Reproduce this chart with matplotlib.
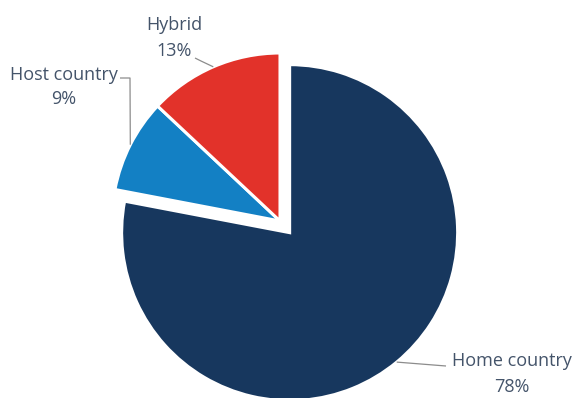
import numpy as np
import matplotlib
matplotlib.use("Agg")
import matplotlib.pyplot as plt

labels = ["Home country", "Host country", "Hybrid"]
values = [78, 9, 13]
colors = ["#17375E", "#1380C4", "#E2322A"]
explode = [0.09, 0.0, 0.0]

W, H = 574, 398
fig = plt.figure(figsize=(W / 100, H / 100), dpi=100)
ax = fig.add_axes([0, 0, 1, 1])
R = 168.0
cx, cy = 280.0, 398 - 221.0

wedges, _ = ax.pie(values, colors=colors, explode=explode, startangle=90,
                   counterclock=False, radius=1.0, center=(0, 0), frame=True,
                   wedgeprops=dict(edgecolor="white", linewidth=2.2))
ax.set_xlim(-cx / R, (W - cx) / R)
ax.set_ylim(-cy / R, (H - cy) / R)
ax.set_aspect("auto")
ax.axis("off")

txtc = "#44546A"
linec = "#8C8C8C"
font = "Open Sans"
fs = 13

def px(x, y):
    return ((x - cx) / R, (398 - y - cy) / R)

# label positions (layout) and elbow points
label_pos = {
    "Home country": px(512, 374),
    "Host country": px(64, 87),
    "Hybrid": px(174, 38),
}
elbows = {
    "Home country": [px(446, 366)],
    "Host country": [px(130, 78), px(120, 78)],
    "Hybrid": [px(201, 61), px(195, 58)],
}

total = sum(values)
start = 90.0
for lab, v, ex, w in zip(labels, values, explode, wedges):
    ang = start - 360.0 * v / total / 2
    start -= 360.0 * v / total
    a = np.deg2rad(ang)
    ox, oy = ex * np.cos(a), ex * np.sin(a)
    ex_pt = (ox + 1.0 * np.cos(a), oy + 1.0 * np.sin(a))
    pts = [ex_pt] + elbows[lab]
    ax.plot([p[0] for p in pts], [p[1] for p in pts], color=linec, lw=0.9,
            solid_capstyle="butt", zorder=1)
    tx, ty = label_pos[lab]
    ax.text(tx, ty, f"{lab}\n{v}%", ha="center", va="center", color=txtc,
            fontsize=fs, family=font, linespacing=1.5)

fig.savefig("out.png", dpi=100, facecolor="white")
